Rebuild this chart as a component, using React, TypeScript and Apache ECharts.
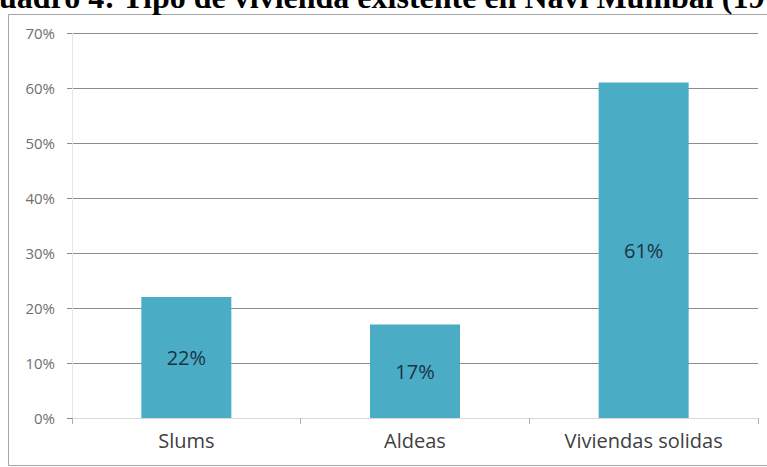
import React, { useEffect, useRef } from "react";
import * as echarts from "echarts";

const categories = ["Slums", "Aldeas", "Viviendas solidas"];
const values = [22, 17, 61];
const titleText = "uadro 4: Tipo de vivienda existente en Navi Mumbai (19";

export default function App() {
  const ref = useRef<HTMLDivElement>(null);
  useEffect(() => {
    document.body.style.margin = "0";
    const chart = echarts.init(ref.current!, null, { renderer: "svg" });
    chart.setOption({
      animation: false,
      backgroundColor: "#ffffff",
      grid: { left: 72, right: 9, top: 33, bottom: 49 },
      graphic: [
        {
          type: "rect",
          shape: { x: 8.5, y: 14.5, width: 770, height: 451 },
          style: { fill: "none", stroke: "#a6a6a6", lineWidth: 1 },
          z: 0,
        },
        {
          type: "text",
          x: -1,
          y: -3,
          style: {
            text: titleText,
            font: "bold 32px 'Liberation Serif', 'DejaVu Serif', serif",
            fill: "#000000",
            verticalAlign: "middle",
          },
          z: 10,
        },
      ],
      xAxis: {
        type: "category",
        data: categories,
        axisLine: { lineStyle: { color: "#d9d9d9" } },
        axisTick: { show: true, length: 6, lineStyle: { color: "#b0b0b0" } },
        axisLabel: {
          color: "#404040",
          fontSize: 20,
          fontFamily: "'Open Sans', sans-serif",
          margin: 12,
        },
      },
      yAxis: {
        type: "value",
        min: 0,
        max: 70,
        interval: 10,
        axisLine: { show: true, lineStyle: { color: "#e6e6e6" } },
        axisTick: { show: true, length: 5, lineStyle: { color: "#8c8c8c" } },
        splitLine: {
          lineStyle: {
            color: ["#d9d9d9", "#8c8c8c", "#8c8c8c", "#8c8c8c", "#8c8c8c", "#8c8c8c", "#8c8c8c", "#8c8c8c"],
            width: 1,
          },
        },
        axisLabel: {
          formatter: "{value}%",
          color: "#6f6f6f",
          fontSize: 15,
          fontFamily: "'Open Sans', sans-serif",
          margin: 17,
        },
      },
      series: [
        {
          type: "bar",
          data: values,
          barWidth: 90,
          itemStyle: { color: "#4bacc6" },
          label: {
            show: true,
            position: "inside",
            formatter: "{c}%",
            color: "#1a3345",
            fontSize: 20,
            fontFamily: "'Open Sans', sans-serif",
          },
        },
      ],
    });
    return () => chart.dispose();
  }, []);
  return <div ref={ref} style={{ width: 767, height: 467 }} />;
}
